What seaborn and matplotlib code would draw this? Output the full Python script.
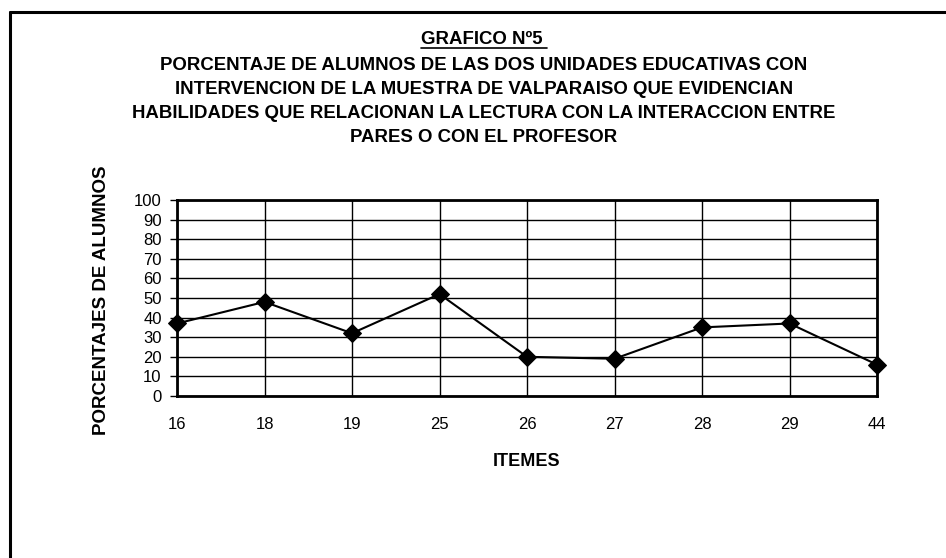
import matplotlib
matplotlib.use("Agg")
import matplotlib.pyplot as plt
import seaborn as sns
import numpy as np
import pandas as pd
from matplotlib.lines import Line2D

items = ["16", "18", "19", "25", "26", "27", "28", "29", "44"]
porcentajes = [37, 48, 32, 52, 20, 19, 35, 37, 16]
y_ticks = [0, 10, 20, 30, 40, 50, 60, 70, 80, 90, 100]

title_head = "GRAFICO Nº5 "
title_lines = [
    "PORCENTAJE DE ALUMNOS DE LAS DOS UNIDADES EDUCATIVAS CON",
    "INTERVENCION DE LA MUESTRA DE VALPARAISO QUE EVIDENCIAN",
    "HABILIDADES QUE RELACIONAN LA LECTURA CON LA INTERACCION ENTRE",
    "PARES O CON EL PROFESOR",
]

sns.set_theme(style="white")
plt.rcParams['font.family'] = ['Liberation Sans', 'DejaVu Sans']

W, H = 946, 558
fig = plt.figure(figsize=(W / 100, H / 100), dpi=100)
fig.patch.set_facecolor("white")

# outer frame (extends beyond the right/bottom edge)
fig.add_artist(Line2D([10 / W, 10 / W], [0, 1 - 12 / H], color="black", lw=2.2, transform=fig.transFigure))
fig.add_artist(Line2D([10 / W, 1], [1 - 12 / H, 1 - 12 / H], color="black", lw=2.2, transform=fig.transFigure))

ax = fig.add_axes([177 / W, 1 - 396 / H, 700 / W, 196 / H])

df = pd.DataFrame({"pos": np.arange(len(items)), "val": porcentajes})
sns.lineplot(data=df, x="pos", y="val", ax=ax, color="black", lw=1.5,
             marker="D", markersize=9, markeredgecolor="black", clip_on=False, zorder=5)

ax.set_xlim(0, len(items) - 1)
ax.set_ylim(0, 100)
ax.set_xticks(np.arange(len(items)))
ax.set_xticklabels(items, fontsize=12)
ax.set_yticks(y_ticks)
ax.set_yticklabels([str(v) for v in y_ticks], fontsize=12)
ax.grid(True, color="black", lw=1.0)
ax.set_axisbelow(True)
for s in ax.spines.values():
    s.set_visible(True)
    s.set_color("black")
    s.set_linewidth(2.0)
ax.tick_params(axis="y", which="major", left=True, length=5, width=1, color="black", pad=6, labelcolor="black")
ax.tick_params(axis="x", which="major", bottom=False, length=0, pad=15, labelcolor="black")
ax.set_xlabel("ITEMES", fontsize=13, fontweight="bold", color="black")
ax.set_ylabel("PORCENTAJES DE ALUMNOS", fontsize=13.5, fontweight="bold", color="black")
ax.xaxis.set_label_coords(0.5, (396 - 461) / 196)
ax.xaxis.label.set_verticalalignment("center")
ax.yaxis.set_label_coords((101 - 177) / 700, 0.49)
ax.yaxis.label.set_verticalalignment("center")

# title
cx = 484 / W
t0 = fig.text(cx, 1 - 40 / H, title_head, ha="center", va="center", fontsize=13.4,
              fontweight="bold", color="black")
ys = [66, 90, 113, 137]
for yy, line in zip(ys, title_lines):
    fig.text(cx, 1 - yy / H, line, ha="center", va="center", fontsize=13.4,
             fontweight="bold", color="black")

fig.canvas.draw()
bb = t0.get_window_extent()
x0, x1 = bb.x0 / W, bb.x1 / W
yline = (bb.y0 + 1) / H
fig.add_artist(Line2D([x0, x1], [yline, yline], color="black", lw=1.2, transform=fig.transFigure))

fig.savefig("out.png", dpi=100, facecolor="white")
